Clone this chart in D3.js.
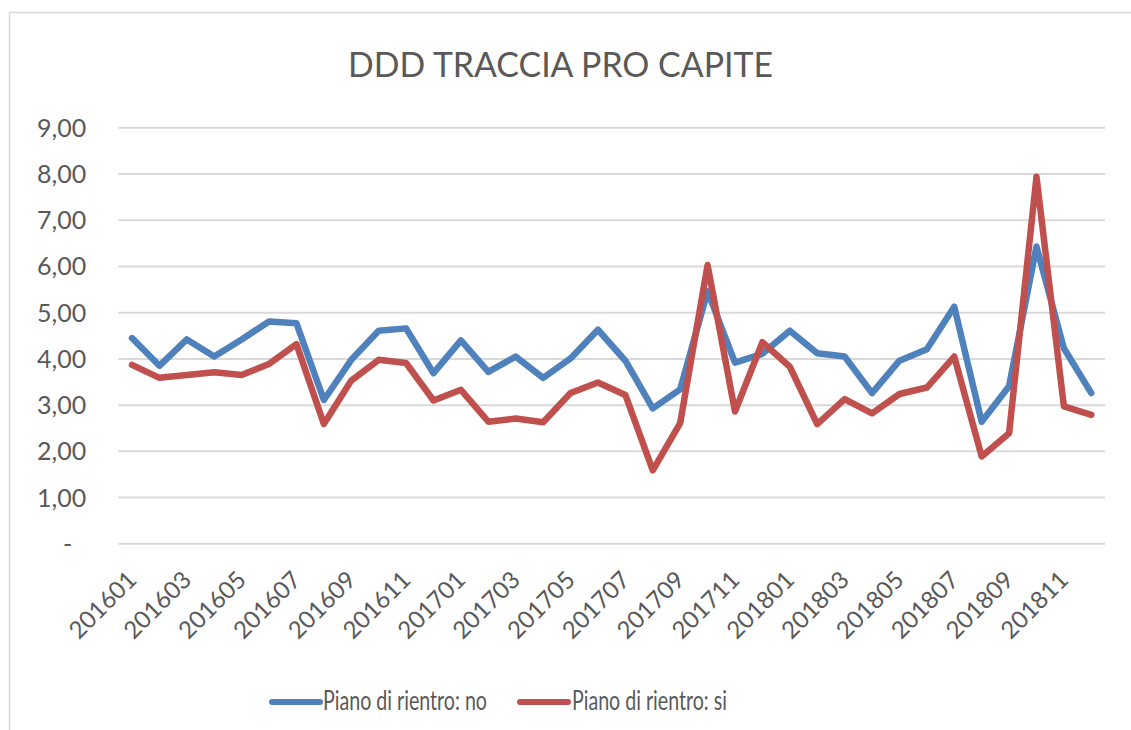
<!DOCTYPE html>
<html>
<head>
<meta charset="utf-8">
<script src="https://cdn.jsdelivr.net/npm/d3@7/dist/d3.min.js"></script>
<style>
  html, body { margin: 0; padding: 0; background: #ffffff; }
  svg { display: block; }
  text { font-family: Lato, "Open Sans", sans-serif; fill: #595959; }
</style>
</head>
<body>
<svg id="chart" width="1131" height="730"></svg>
<script>
const months = ["201601","201602","201603","201604","201605","201606","201607","201608","201609","201610","201611","201612",
                "201701","201702","201703","201704","201705","201706","201707","201708","201709","201710","201711","201712",
                "201801","201802","201803","201804","201805","201806","201807","201808","201809","201810","201811","201812"];
const pianoNo = [4.44,3.84,4.41,4.04,4.41,4.80,4.76,3.10,3.97,4.60,4.65,3.68,
                 4.39,3.71,4.04,3.58,4.00,4.62,3.95,2.92,3.33,5.45,3.91,4.10,
                 4.60,4.11,4.04,3.25,3.95,4.20,5.12,2.63,3.40,6.42,4.22,3.25];
const pianoSi = [3.86,3.58,3.64,3.70,3.64,3.88,4.31,2.58,3.52,3.97,3.90,3.09,
                 3.32,2.63,2.70,2.62,3.25,3.48,3.21,1.58,2.60,6.02,2.85,4.35,
                 3.82,2.58,3.12,2.81,3.23,3.37,4.04,1.88,2.38,7.93,2.96,2.78];
const yTicks = [0,1,2,3,4,5,6,7,8,9];
const seriesNames = ["Piano di rientro: no", "Piano di rientro: si"];
const title = "DDD TRACCIA PRO CAPITE";

const colors = ["#4F81BD", "#C0504D"];
const svg = d3.select("#chart");

// outer frame
svg.append("rect").attr("x", 9.5).attr("y", 12.5).attr("width", 1200).attr("height", 800)
  .attr("fill", "none").attr("stroke", "#d9d9d9").attr("stroke-width", 1.5);

const plot = {left: 118.3, right: 1105, top: 127.3, bottom: 543.3};

const x = d3.scaleBand().domain(months).range([plot.left, plot.right]).paddingInner(0).paddingOuter(0);
const y = d3.scaleLinear().domain([0, 9]).range([plot.bottom, plot.top]);

// title
svg.append("text").attr("x", 560.5).attr("y", 76.5).attr("text-anchor", "middle")
  .attr("font-size", 35).attr("textLength", 425).attr("lengthAdjust", "spacingAndGlyphs")
  .text(title);

// y axis with gridlines
const fmt = v => v === 0 ? "-" : d3.format(".2f")(v).replace(".", ",");
const yAxis = svg.append("g").attr("transform", `translate(${plot.left},0)`)
  .call(d3.axisLeft(y).tickValues(yTicks).tickFormat(fmt)
        .tickSize(-(plot.right - plot.left)).tickPadding(32));
yAxis.select(".domain").remove();
yAxis.selectAll(".tick line").attr("stroke", "#d9d9d9").attr("stroke-width", 2);
yAxis.selectAll(".tick text").attr("font-size", 25).attr("fill", "#595959")
  .attr("dy", "0.36em")
  .filter(d => d === 0).attr("dx", -14);

// x axis labels
const xAxis = svg.append("g").attr("transform", `translate(0,${plot.bottom})`)
  .call(d3.axisBottom(x).tickValues(months.filter((m, i) => i % 2 === 0)).tickSize(0).tickPadding(0));
xAxis.select(".domain").remove();
xAxis.selectAll(".tick text").attr("font-size", 24).attr("fill", "#595959")
  .attr("text-anchor", "end").attr("y", 0).attr("dy", 0)
  .attr("transform", "translate(6,38) rotate(-45)");

// lines
const line = d3.line().x((d, i) => x(months[i]) + x.bandwidth() / 2).y(d => y(d));
[pianoNo, pianoSi].forEach((vals, k) => {
  svg.append("path").datum(vals).attr("d", line)
    .attr("fill", "none").attr("stroke", colors[k]).attr("stroke-width", 6.5)
    .attr("stroke-linejoin", "round").attr("stroke-linecap", "round");
});

// legend
const legendItems = [
  {x1: 272, x2: 320, tx: 323, tl: 164},
  {x1: 520, x2: 568, tx: 572, tl: 155}
];
legendItems.forEach((it, k) => {
  svg.append("line").attr("x1", it.x1).attr("x2", it.x2).attr("y1", 702).attr("y2", 702)
    .attr("stroke", colors[k]).attr("stroke-width", 6).attr("stroke-linecap", "round");
  svg.append("text").attr("x", it.tx).attr("y", 710).attr("font-size", 26)
    .attr("textLength", it.tl).attr("lengthAdjust", "spacingAndGlyphs")
    .text(seriesNames[k]);
});
</script>
</body>
</html>
